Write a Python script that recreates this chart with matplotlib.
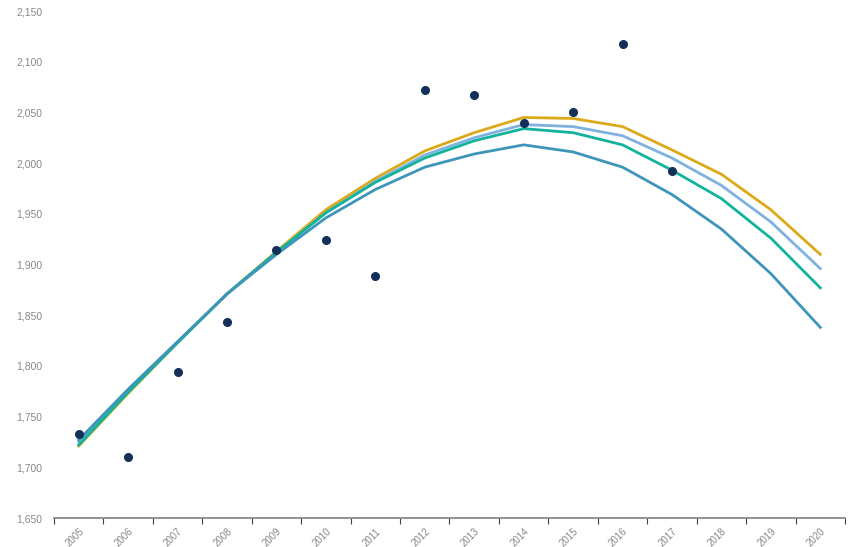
import numpy as np
import matplotlib.pyplot as plt
from matplotlib.ticker import FuncFormatter, FixedLocator

plt.rcParams['font.family'] = ['Liberation Sans', 'DejaVu Sans']

years = [str(y) for y in range(2005, 2021)]

actual = [1733, 1710, 1794, 1843, 1914, 1924, 1889, 2072,
          2067, 2040, 2050, 2117, 1992, None, None, None]

yellow = [1721, 1773, 1823, 1871, 1913, 1954, 1985, 2012,
          2030, 2045, 2044, 2036, 2013, 1989, 1954, 1910]
light_blue = [1725, 1775, 1823, 1871, 1912, 1951, 1982, 2008,
              2025, 2038, 2036, 2027, 2005, 1978, 1942, 1896]
green = [1722, 1774, 1823, 1871, 1912, 1951, 1981, 2005,
         2022, 2034, 2030, 2018, 1993, 1965, 1926, 1877]
blue = [1727, 1777, 1824, 1871, 1910, 1946, 1974, 1996,
        2009, 2018, 2011, 1996, 1969, 1935, 1891, 1838]

x = np.arange(len(years))

fig = plt.figure(figsize=(8.5, 5.47), dpi=100)
ax = fig.add_axes([54 / 850, 29 / 547, 791 / 850, 507 / 547])

lw = 2.0
ax.plot(x, yellow, color='#DBA91A', lw=lw)
ax.plot(x, light_blue, color='#7FB2DF', lw=lw)
ax.plot(x, green, color='#12B39B', lw=lw)
ax.plot(x, blue, color='#3E95BA', lw=lw)

ax.plot(x, [np.nan if v is None else v for v in actual], 'o',
        color='#13305A', ms=5.5, zorder=5)

ax.set_xlim(-0.5, len(years) - 0.5)
ax.set_ylim(1650, 2150)
ax.set_yticks(np.arange(1650, 2151, 50))
ax.yaxis.set_major_formatter(FuncFormatter(lambda v, p: f'{int(v):,}'))

ax.xaxis.set_major_locator(FixedLocator(np.arange(-0.5, len(years), 1)))
ax.xaxis.set_major_formatter(FuncFormatter(lambda v, p: ''))
ax.xaxis.set_minor_locator(FixedLocator(x))
ax.set_xticklabels(years, minor=True, rotation=45, ha='right',
                   rotation_mode='anchor', fontsize=7, color='#888888')
ax.tick_params(axis='x', which='major', length=4, width=0.8,
               color='#404040', direction='out')
ax.tick_params(axis='x', which='minor', length=0, pad=6)
ax.tick_params(axis='y', length=0, labelsize=7.5, labelcolor='#888888', pad=8.5)

for s in ['top', 'right', 'left']:
    ax.spines[s].set_visible(False)
ax.spines['bottom'].set_color('#7F7F7F')
ax.spines['bottom'].set_linewidth(1.2)

fig.savefig('out.png', dpi=100)
